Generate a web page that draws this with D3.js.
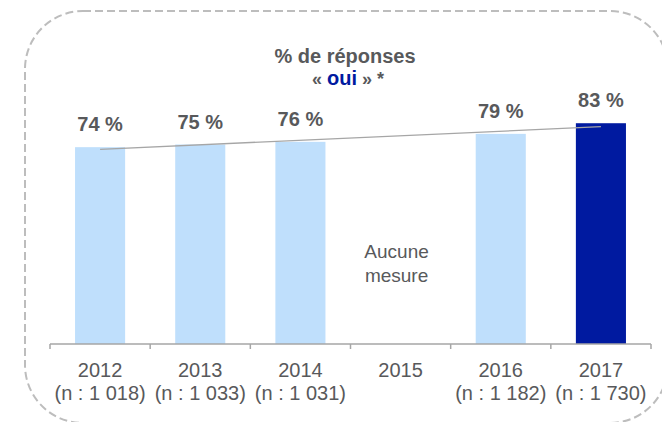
<!DOCTYPE html>
<html>
<head>
<meta charset="utf-8">
<script src="https://cdn.jsdelivr.net/npm/d3@7"></script>
<style>
  html, body { margin: 0; padding: 0; background: #fff; }
  svg { display: block; font-family: "Liberation Sans", Arial, sans-serif; }
</style>
</head>
<body>
<svg id="chart" width="662" height="422"></svg>
<script>
// ---- data ----
const years = ["2012", "2013", "2014", "2015", "2016", "2017"];
const sampleSizes = ["(n : 1 018)", "(n : 1 033)", "(n : 1 031)", "", "(n : 1 182)", "(n : 1 730)"];
const values = [74, 75, 76, null, 79, 83];
const highlightYear = "2017";
const trendYears = ["2012", "2017"];
const trendValues = [73.2, 81.7];
const noDataText = ["Aucune", "mesure"];

const svg = d3.select("#chart");
const grey = "#58595b";
const light = "#bfdffc";
const dark = "#001aa0";

// dashed rounded frame (extends past right and bottom edges)
svg.append("rect")
  .attr("x", 25).attr("y", 11).attr("width", 643).attr("height", 412)
  .attr("rx", 58).attr("ry", 58)
  .attr("fill", "none").attr("stroke", "#bdbdbd")
  .attr("stroke-width", 2).attr("stroke-dasharray", "8,4");

const x = d3.scaleBand().domain(years).range([50, 651]).paddingInner(0.5).paddingOuter(0.25);
const y = d3.scaleLinear().domain([0, 100]).range([344, 78]);

// bars
const data = years.map((yr, i) => ({ yr, v: values[i], n: sampleSizes[i] }));
svg.selectAll("rect.bar").data(data.filter(d => d.v != null)).enter()
  .append("rect").attr("class", "bar")
  .attr("x", d => x(d.yr)).attr("width", x.bandwidth())
  .attr("y", d => y(d.v)).attr("height", d => y(0) - y(d.v))
  .attr("fill", d => d.yr === highlightYear ? dark : light);

// trend line
const line = d3.line().x(d => x(d[0]) + x.bandwidth() / 2).y(d => y(d[1]));
svg.append("path")
  .datum(trendYears.map((t, i) => [t, trendValues[i]]))
  .attr("d", line).attr("fill", "none")
  .attr("stroke", "#a6a6a6").attr("stroke-width", 1.3);

// value labels
svg.selectAll("text.val").data(data.filter(d => d.v != null)).enter()
  .append("text").attr("class", "val")
  .attr("x", d => x(d.yr) + x.bandwidth() / 2)
  .attr("y", d => y(d.v) - 16)
  .attr("text-anchor", "middle")
  .attr("font-size", 20).attr("font-weight", "bold").attr("fill", grey)
  .text(d => d.v + " %");

// axis line with ticks at band boundaries
const step = x.step();
const bounds = d3.range(years.length + 1).map(i => 50 + i * step);
svg.append("line").attr("x1", 50).attr("x2", 651).attr("y1", 344).attr("y2", 344)
  .attr("stroke", "#a6a6a6").attr("stroke-width", 1.5);
svg.selectAll("line.tick").data(bounds).enter().append("line").attr("class", "tick")
  .attr("x1", d => d).attr("x2", d => d).attr("y1", 344).attr("y2", 349)
  .attr("stroke", "#a6a6a6").attr("stroke-width", 1.5);

// category labels
const cat = svg.selectAll("g.cat").data(data).enter().append("g").attr("class", "cat")
  .attr("transform", d => `translate(${x(d.yr) + x.bandwidth() / 2},0)`);
cat.append("text").attr("y", 377).attr("text-anchor", "middle")
  .attr("font-size", 20).attr("fill", grey).text(d => d.yr);
cat.append("text").attr("y", 400).attr("text-anchor", "middle")
  .attr("font-size", 20).attr("fill", grey).text(d => d.n);

// no data note
svg.append("text").attr("text-anchor", "middle").attr("font-size", 19).attr("fill", grey)
  .selectAll("tspan").data(noDataText).enter().append("tspan")
  .attr("x", x("2015") + x.bandwidth() / 2 - 4).attr("y", (d, i) => 258 + i * 24)
  .text(d => d);

// title
svg.append("text").attr("x", 345).attr("y", 63).attr("text-anchor", "middle")
  .attr("font-size", 20).attr("font-weight", "bold").attr("fill", grey)
  .text("% de réponses");
const t2 = svg.append("text").attr("x", 348).attr("y", 85).attr("text-anchor", "middle")
  .attr("font-size", 18).attr("font-weight", "bold").attr("fill", grey);
t2.append("tspan").text("« ");
t2.append("tspan").attr("fill", dark).attr("font-size", 20).text("oui");
t2.append("tspan").text(" » *");
</script>
</body>
</html>
